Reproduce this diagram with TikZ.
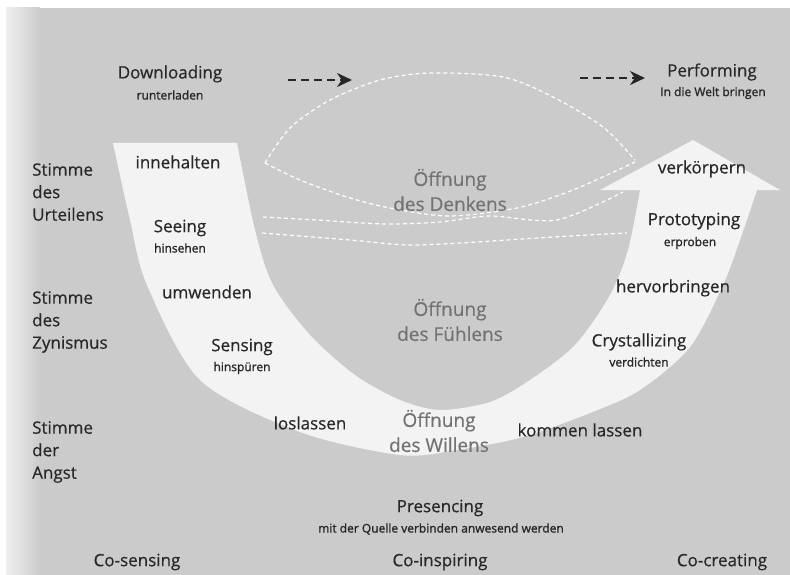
\documentclass[tikz,border=0pt]{standalone}
\usepackage{fontspec}
\setmainfont{Open Sans}
\newfontfamily\lblfont{Open Sans}[FakeBold=0.5]
\newfontfamily\subfont{Open Sans}[FakeBold=1.4]
\usetikzlibrary{arrows.meta}
\definecolor{bggray}{RGB}{203,203,203}
\definecolor{ink}{RGB}{40,40,40}
\definecolor{faint}{RGB}{115,115,115}
\definecolor{band}{RGB}{243,243,243}
\tikzset{
  lbl/.style={text=ink,font=\lblfont\fontsize{17}{20}\selectfont,inner sep=0pt},
  sub/.style={text=ink,font=\subfont\fontsize{12}{14}\selectfont,inner sep=0pt},
  voice/.style={text=ink,font=\lblfont\fontsize{17}{22.5}\selectfont,align=left,anchor=west,inner sep=0pt},
  opening/.style={text=faint,font=\lblfont\fontsize{19}{25}\selectfont,align=center,inner sep=0pt},
  flow/.style={white,line width=1.2pt,dash pattern=on 4pt off 3pt},
  jump/.style={black!85,line width=2.4pt,dash pattern=on 8pt off 5pt,-{Stealth[length=15pt,width=14pt]}}
}
\begin{document}
\begin{tikzpicture}[x=1pt,y=-1pt]
\useasboundingbox (0,0) rectangle (790,575);
\fill[white] (0,0) rectangle (790,575);
\shade[left color=white!70!bggray,right color=bggray] (6,8) rectangle (40,575);
\fill[bggray] (40,8) rectangle (790,575);
\fill[band] plot[smooth] coordinates {(113,143) (130,220) (147,285) (200,380) (300,432) (400,455) (457,450) (523,437) (590,413) (640,390) (690,347) (723,285) (740,240) (757,190)}
  -- (780,190) -- (693,140) -- (600,190) -- (640,190)
  -- plot[smooth] coordinates {(640,190) (628,250) (610,295) (575,345) (530,380) (490,402) (440,410) (400,400) (355,375) (310,335) (273,285) (255,230) (237,143)}
  -- cycle;
\draw[flow] plot[smooth] coordinates {(265,163) (290,128) (330,100) (380,80) (430,73) (503,77) (553,97) (603,127) (635,160)};
\draw[flow] plot[smooth] coordinates {(265,163) (300,180) (350,198) (395,209) (450,216) (517,208) (573,190) (635,162)};
\draw[flow] plot[smooth] coordinates {(263,217) (317,220) (385,224) (440,222) (490,216) (557,220) (623,192)};
\draw[flow] plot[smooth] coordinates {(262,233) (350,240) (407,245) (460,243) (507,240) (570,236) (627,233)};
\node[lbl] (dl) at (170,74) {Downloading};
\node[sub] (dlsub) at (170,95) {runterladen};
\node[lbl] (pf) at (712,72) {Performing};
\node[sub] (pfsub) at (713,93) {In die Welt bringen};
\coordinate (j1a) at (288,80);
\coordinate (j1b) at (352,80);
\coordinate (j2a) at (580,78);
\coordinate (j2b) at (645,78);
\draw[jump] (j1a) -- (j1b);
\draw[jump] (j2a) -- (j2b);
\node[voice] (vu) at (32,192) {Stimme\\des\\Urteilens};
\node[voice] (vz) at (32,322) {Stimme\\des\\Zynismus};
\node[voice] (va) at (32,452) {Stimme\\der\\Angst};
\node[lbl] (inne) at (178,162) {innehalten};
\node[lbl] (see) at (180,228) {Seeing};
\node[sub] (seesub) at (180,248) {hinsehen};
\node[lbl] (umw) at (207,292) {umwenden};
\node[lbl] (sen) at (242,347) {Sensing};
\node[sub] (sensub) at (242,368) {hinspüren};
\node[lbl] (los) at (310,423) {loslassen};
\node[opening] (od) at (450,190) {Öffnung\\des Denkens};
\node[opening] (of) at (450,320) {Öffnung\\des Fühlens};
\node[opening] (ow) at (439,431) {Öffnung\\des Willens};
\node[lbl] (verk) at (702,169) {verkörpern};
\node[lbl] (proto) at (694,221) {Prototyping};
\node[sub] (protosub) at (690,243) {erproben};
\node[lbl] (herv) at (673,288) {hervorbringen};
\node[lbl] (cry) at (639,342) {Crystallizing};
\node[sub] (crysub) at (639,362) {verdichten};
\node[lbl] (komm) at (580,430) {kommen lassen};
\node[lbl] (pres) at (440,508) {Presencing};
\node[sub] (pressub) at (441,529) {mit der Quelle verbinden anwesend werden};
\node[lbl] (cos) at (137,562) {Co-sensing};
\node[lbl] (coi) at (440,562) {Co-inspiring};
\node[lbl] (coc) at (722,562) {Co-creating};
\end{tikzpicture}
\end{document}
